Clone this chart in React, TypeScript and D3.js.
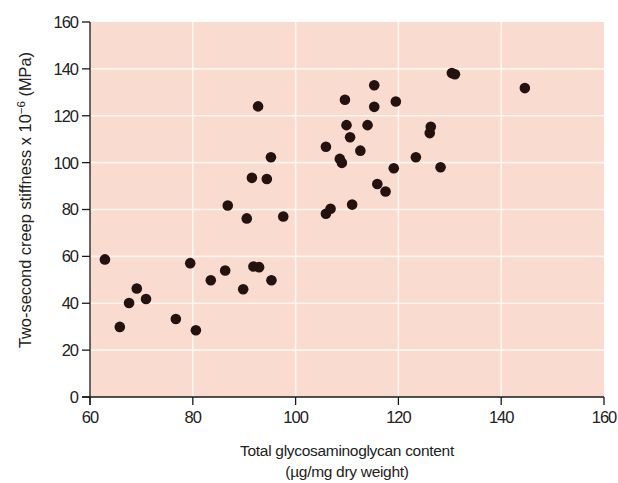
import React from "react";
import * as d3 from "d3";

const gagContent = [62.9, 65.8, 67.6, 69.1, 70.9, 76.7, 79.5, 80.6, 83.5, 86.3, 86.8, 89.8, 90.5, 91.5, 91.8, 92.7, 92.9, 94.4, 95.2, 95.3, 97.6, 105.9, 105.9, 106.8, 108.6, 109.0, 109.6, 109.9, 110.6, 111.0, 112.6, 114.0, 115.3, 115.3, 115.9, 117.5, 119.5, 119.1, 123.4, 126.1, 126.3, 128.2, 130.4, 131.0, 144.6];
const stiffness = [58.7, 29.9, 40.1, 46.3, 41.8, 33.3, 57.1, 28.5, 49.8, 54.0, 81.7, 46.0, 76.2, 93.5, 55.7, 124.0, 55.4, 93.0, 102.3, 49.8, 77.0, 78.2, 106.8, 80.3, 101.6, 99.9, 126.8, 116.0, 110.8, 82.1, 105.1, 116.0, 133.0, 123.8, 90.9, 87.7, 126.1, 97.6, 102.3, 112.6, 115.3, 98.0, 138.2, 137.7, 131.8];
const xTicks = [60, 80, 100, 120, 140, 160];
const yTicks = [0, 20, 40, 60, 80, 100, 120, 140, 160];
const xTitleLines = ["Total glycosaminoglycan content", "(\u00b5g/mg dry weight)"];

const W = 618;
const H = 483;
const left = 90;
const right = 604;
const top = 22;
const bottom = 397;
const FONT = "'Liberation Sans', Arial, Helvetica, sans-serif";

export default function App() {
  const x = d3.scaleLinear().domain([60, 160]).range([left, right]);
  const y = d3.scaleLinear().domain([0, 160]).range([bottom, top]);
  const points = gagContent.map((g, i) => ({ g, s: stiffness[i] }));

  return (
    <svg width={W} height={H} style={{ position: "absolute", left: 0, top: 0, background: "#ffffff" }} fontFamily={FONT}>
      <rect x={left} y={top} width={right - left} height={bottom - top} fill="#f9dbd0" />
      {yTicks.filter((t) => t > 0 && t < 160).map((t) => (
        <line key={"gy" + t} x1={left} x2={right} y1={y(t)} y2={y(t)} stroke="#fff6ef" strokeWidth={1.6} />
      ))}
      {xTicks.filter((t) => t > 60 && t < 160).map((t) => (
        <line key={"gx" + t} x1={x(t)} x2={x(t)} y1={top} y2={bottom} stroke="#fff6ef" strokeWidth={1.6} />
      ))}
      {points.map((p, i) => (
        <circle key={i} cx={x(p.g)} cy={y(p.s)} r={5.3} fill="#231210" />
      ))}
      {/* y axis */}
      <line x1={left} x2={left} y1={top} y2={bottom + 8} stroke="#1a1a1a" strokeWidth={1.3} />
      {yTicks.map((t) => (
        <g key={"yt" + t}>
          <line x1={left - 8} x2={left} y1={y(t)} y2={y(t)} stroke="#1a1a1a" strokeWidth={1.3} />
          <text x={left - 12} y={y(t)} dy="0.36em" textAnchor="end" fontSize={16.5} letterSpacing={-1} fill="#222">{t}</text>
        </g>
      ))}
      {/* x axis */}
      <line x1={left - 8} x2={right} y1={bottom} y2={bottom} stroke="#1a1a1a" strokeWidth={1.3} />
      {xTicks.map((t) => (
        <g key={"xt" + t}>
          <line x1={x(t)} x2={x(t)} y1={bottom} y2={bottom + 8} stroke="#1a1a1a" strokeWidth={1.3} />
          <text x={x(t)} y={bottom + 26} textAnchor="middle" fontSize={16.5} letterSpacing={-1} fill="#222">{t}</text>
        </g>
      ))}
      {xTitleLines.map((l, i) => (
        <text key={"xl" + i} x={(left + right) / 2} y={456 + i * 21} textAnchor="middle" fontSize={15.5} letterSpacing={-0.3} fill="#222">{l}</text>
      ))}
      <text transform="translate(31, 200) rotate(-90)" textAnchor="middle" fontSize={16.4} fill="#222">
        Two-second creep stiffness x 10<tspan dy={-6} fontSize={11.5}>−6</tspan><tspan dy={6}> (MPa)</tspan>
      </text>
    </svg>
  );
}
